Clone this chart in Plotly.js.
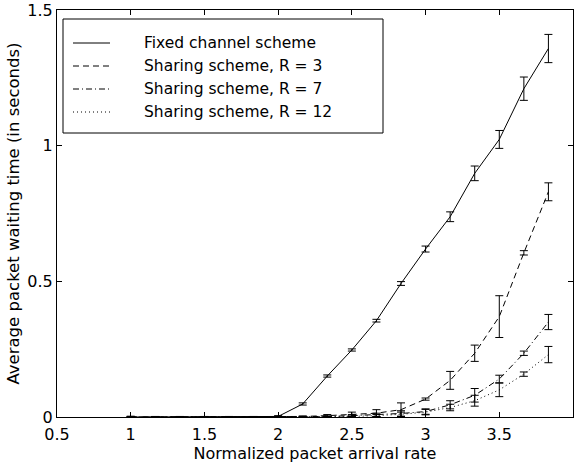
<!DOCTYPE html>
<html>
<head>
<meta charset="utf-8">
<script src="https://cdn.plot.ly/plotly-3.0.1.min.js"></script>
<style>html,body{margin:0;padding:0;background:#fff}#chart{width:577px;height:468px}</style>
</head>
<body>
<div id="chart"></div>
<script>
// Normalized packet arrival rate
const rates = [1, 1.1667, 1.3333, 1.5, 1.6667, 1.8333, 2, 2.1667, 2.3333, 2.5, 2.6667, 2.8333, 3, 3.1667, 3.3333, 3.5, 3.6667, 3.8333];

const seriesNames = ["Fixed channel scheme", "Sharing scheme, R = 3", "Sharing scheme, R = 7", "Sharing scheme, R = 12"];

const fixedMean = [0, 0, 0, 0, 0, 0, 0.002, 0.048, 0.151, 0.247, 0.355, 0.492, 0.619, 0.738, 0.898, 1.023, 1.21, 1.358];
const fixedErr  = [0.003, 0.002, 0.002, 0.002, 0.002, 0.002, 0.003, 0.004, 0.004, 0.004, 0.005, 0.007, 0.011, 0.018, 0.027, 0.033, 0.043, 0.052];

const r3Mean = [0, 0, 0, 0, 0, 0, 0, 0.002, 0.005, 0.01, 0.014, 0.027, 0.066, 0.135, 0.235, 0.37, 0.605, 0.83];
const r3Err  = [0, 0, 0, 0, 0, 0, 0, 0.002, 0.004, 0.008, 0.013, 0.025, 0.004, 0.033, 0.03, 0.077, 0.008, 0.033];

const r7Mean = [0, 0, 0, 0, 0, 0, 0, 0, 0.002, 0.005, 0.008, 0.013, 0.02, 0.045, 0.08, 0.14, 0.235, 0.35];
const r7Err  = [0, 0, 0, 0, 0, 0, 0, 0, 0.002, 0.004, 0.006, 0.01, 0.01, 0.015, 0.025, 0.014, 0.008, 0.028];

const r12Mean = [0, 0, 0, 0, 0, 0, 0, 0, 0.001, 0.002, 0.005, 0.01, 0.018, 0.035, 0.06, 0.1, 0.158, 0.23];
const r12Err  = [0, 0, 0, 0, 0, 0, 0, 0, 0.001, 0.002, 0.004, 0.008, 0.01, 0.012, 0.02, 0.025, 0.008, 0.03];

const dashes = ["solid", "6px,4px", "6px,3px,1px,3px", "1px,3px"];
const means = [fixedMean, r3Mean, r7Mean, r12Mean];
const errs = [fixedErr, r3Err, r7Err, r12Err];

const traces = means.map((m, i) => ({
  x: rates, y: m, type: "scatter", mode: "lines", name: seriesNames[i],
  line: {color: "black", width: 1, dash: dashes[i]},
  error_y: {type: "data", array: errs[i], visible: true, color: "black", thickness: 1, width: 4},
  showlegend: false
}));

// Legend drawn in paper coordinates
const plotL = 57, plotR = 573, plotT = 10, plotB = 417;
const W = plotR - plotL, H = plotB - plotT;
const px = x => (x - plotL) / W;
const py = y => (plotB - y) / H;
const shapes = [{type: "rect", xref: "paper", yref: "paper", x0: px(63), x1: px(383), y0: py(133), y1: py(19),
  line: {color: "black", width: 1}, fillcolor: "white", layer: "above"}];
const annotations = [];
const rowY = [43, 66, 89, 112];
const fam = "DejaVu Sans, Liberation Sans, Arial, sans-serif";
seriesNames.forEach((n, i) => {
  shapes.push({type: "line", xref: "paper", yref: "paper", x0: px(73), x1: px(110), y0: py(rowY[i]), y1: py(rowY[i]),
    line: {color: "black", width: 1, dash: dashes[i]}, layer: "above"});
  annotations.push({xref: "paper", yref: "paper", x: px(142), y: py(rowY[i]), xanchor: "left", yanchor: "middle",
    text: n, showarrow: false, font: {family: fam, size: 15.5, color: "black"}});
});

const font = {family: fam, size: 16, color: "black"};
const layout = {
  width: 577, height: 468,
  margin: {l: plotL, r: 577 - plotR, t: plotT, b: 468 - plotB},
  paper_bgcolor: "white", plot_bgcolor: "white",
  font: font,
  xaxis: {range: [0.5, 4], dtick: 0.5, tick0: 0.5, ticks: "inside", ticklen: 5, tickcolor: "black",
    showgrid: false, zeroline: false, showline: true, linecolor: "black", linewidth: 1, mirror: "ticks",
    ticklabelstandoff: 3,
    tickfont: font, title: {text: "Normalized packet arrival rate", font: font, standoff: 0}},
  yaxis: {range: [0, 1.5], dtick: 0.5, tick0: 0, ticks: "inside", ticklen: 5, tickcolor: "black",
    showgrid: false, zeroline: false, showline: true, linecolor: "black", linewidth: 1, mirror: "ticks",
    tickfont: font, title: {text: "Average packet waiting time (in seconds)", font: {family: fam, size: 16.5, color: "black"}, standoff: 3}},
  shapes: shapes, annotations: annotations
};
Plotly.newPlot("chart", traces, layout, {displayModeBar: false, staticPlot: true});
</script>
</body>
</html>
